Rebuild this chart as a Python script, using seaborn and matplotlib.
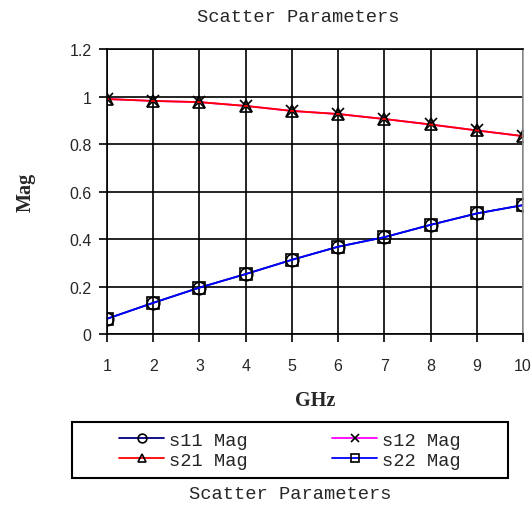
import pandas as pd
import matplotlib.pyplot as plt
import matplotlib.patches as mpatches
import seaborn as sns

ghz = [1, 2, 3, 4, 5, 6, 7, 8, 9, 10]
s11_mag = [0.066, 0.133, 0.197, 0.254, 0.314, 0.369, 0.409, 0.461, 0.509, 0.544]
s12_mag = [0.990, 0.982, 0.977, 0.961, 0.940, 0.927, 0.906, 0.883, 0.858, 0.834]
s21_mag = [0.990, 0.982, 0.977, 0.961, 0.940, 0.927, 0.906, 0.883, 0.858, 0.834]
s22_mag = [0.066, 0.133, 0.197, 0.254, 0.314, 0.369, 0.409, 0.461, 0.509, 0.544]

series = [
    ("s11 Mag", s11_mag, "#000080", "o"),
    ("s12 Mag", s12_mag, "#ff00ff", "x"),
    ("s21 Mag", s21_mag, "#ff0000", "^"),
    ("s22 Mag", s22_mag, "#0000ff", "s"),
]

sns.set_style("white")
plt.rcParams['font.family'] = ['Liberation Sans', 'DejaVu Sans']

fig = plt.figure(figsize=(5.32, 5.06), dpi=100)
ax = fig.add_axes([0.2011, 0.337, 0.782, 0.564])

for name, vals, color, mk in series:
    df = pd.DataFrame({"GHz": ghz, "Mag": vals})
    sns.lineplot(data=df, x="GHz", y="Mag", color=color, marker=mk, markersize=9,
                 markerfacecolor='none', markeredgecolor='black', markeredgewidth=1.2,
                 linewidth=1.3, ax=ax, label=name)

ax.set_xlim(1, 10)
ax.set_ylim(0, 1.2)
ax.set_xticks(ghz)
ax.set_yticks([0, 0.2, 0.4, 0.6, 0.8, 1.0, 1.2])
ax.set_yticklabels(["0", "0.2", "0.4", "0.6", "0.8", "1", "1.2"])
ax.grid(True, color='black', linewidth=1.2)
ax.set_axisbelow(True)
ax.tick_params(axis='both', direction='out', length=6, width=1.2, color='black',
               labelsize=11.5, bottom=True, left=True)
ax.tick_params(axis='y', pad=5)
ax.tick_params(axis='x', pad=11)
for side in ['left', 'bottom', 'top']:
    ax.spines[side].set_color('black')
    ax.spines[side].set_linewidth(1.2)
ax.spines['right'].set_color('#999999')
ax.spines['right'].set_linewidth(1.2)

ax.set_xlabel("GHz", family='Liberation Serif', fontweight='bold', fontsize=14.5, labelpad=12)
ax.set_ylabel("Mag", family='Liberation Serif', fontweight='bold', fontsize=14.5, labelpad=24)

fig.text(0.56, 0.965, "Scatter Parameters", family='Liberation Mono', fontsize=13.5,
         ha='center', va='center')
fig.text(0.545, 0.022, "Scatter Parameters", family='Liberation Mono', fontsize=13.5,
         ha='center', va='center')

# legend frame drawn separately so the box can be wider than its entries
fig.patches.append(mpatches.Rectangle((0.1353, 0.0534), 0.8195, 0.1107,
                                      transform=fig.transFigure, fill=False,
                                      edgecolor='black', linewidth=1.5))

h, l = ax.get_legend_handles_labels()
order = [0, 2, 1, 3]
fig.legend([h[i] for i in order], [l[i] for i in order], ncol=2,
           loc='center', bbox_to_anchor=(290 / 532, 1 - 451 / 506),
           prop={'family': 'Liberation Mono', 'size': 13.5},
           frameon=False, handlelength=2.4, handletextpad=0.25, markerscale=0.7,
           labelspacing=0.15, borderpad=0, columnspacing=4.5)
ax.get_legend().remove()

fig.savefig("out.png", dpi=100)
